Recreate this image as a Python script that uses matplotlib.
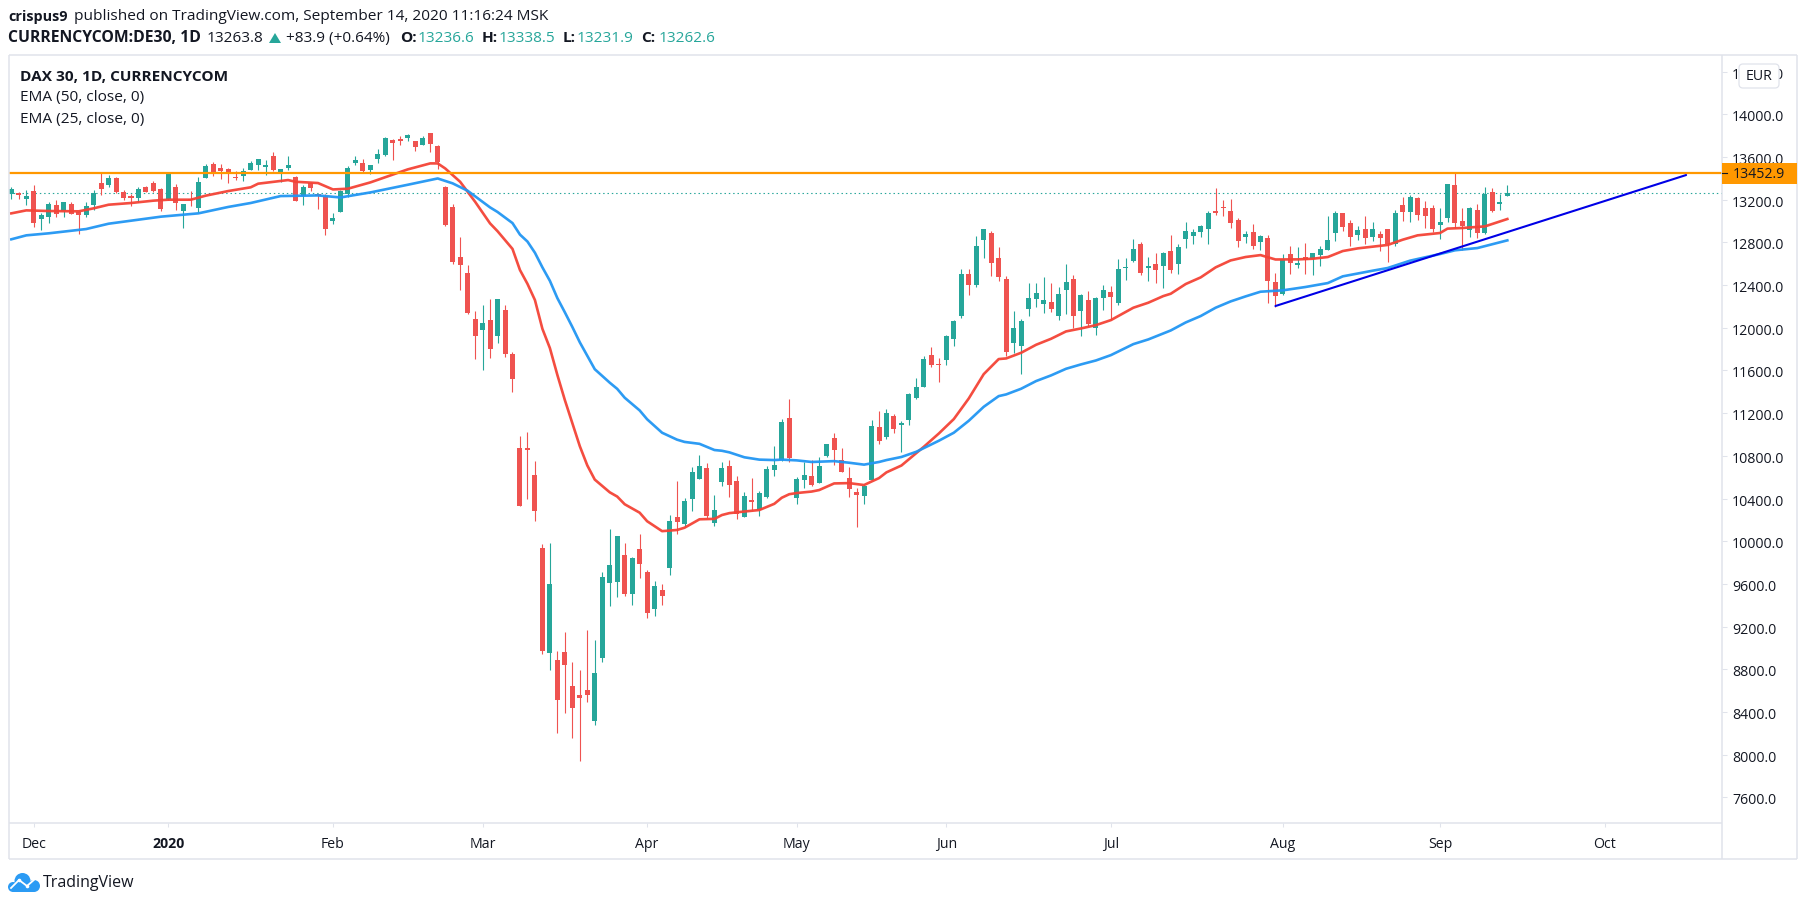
import matplotlib
matplotlib.use("Agg")
import matplotlib.pyplot as plt
from matplotlib.patches import Rectangle, FancyBboxPatch, Polygon, Circle
from matplotlib.ticker import FixedLocator, FixedFormatter
from matplotlib.transforms import ScaledTranslation

plt.rcParams['font.family'] = ['Open Sans', 'DejaVu Sans']

# ---- data (EUR, one entry per daily bar) ----
opens = [13257,13260,13207,13281,13019,13038,13150,13094,13160,13085,13057,13150,13356,13338,13403,13272,13235,13216,13319,13356,
13297,13203,13319,13094,13207,13122,13403,13534,13497,13488,13413,13422,13478,13524,13506,13609,13459,13496,13412,13234,
13356,13253,13234,13000,13084,13253,13543,13543,13478,13581,13618,13759,13768,13777,13749,13712,13824,13702,13318,13131,
12662,12513,12082,11979,12072,11922,12170,11756,10874,10871,10621,9937,8954,8888,8963,8644,8560,8607,8317,8907,
9610,9619,9872,9506,9928,9713,9366,9544,9750,10227,10162,10396,10583,10687,10171,10555,10705,10565,10227,10387,
10293,10415,10668,10761,11155,10405,10574,10612,10546,10799,10968,10761,10593,10462,10424,10574,11071,10977,11174,11089,
11135,11342,11445,11744,11660,11697,11894,12110,12503,12400,12822,12887,12653,12456,11857,11829,12175,12269,12222,12241,
12110,12353,12456,12157,12260,11997,12278,12335,12232,12563,12625,12784,12563,12597,12578,12719,12597,12831,12859,12897,
12925,13093,13131,13093,13009,12850,12897,12803,12841,12428,12316,12691,12588,12666,12647,12685,12732,12891,13078,12985,
12872,12929,12854,12882,12929,12788,13153,13088,13219,13125,13125,12966,13032,13341,13003,12919,13107,12891,13275,13163,13236.6]
highs = [13322,13272,13288,13338,13078,13178,13197,13178,13178,13094,13178,13288,13460,13431,13413,13291,13253,13319,13328,13375,
13310,13447,13347,13160,13281,13413,13534,13553,13534,13497,13469,13497,13562,13581,13571,13646,13487,13609,13421,13337,
13368,13253,13253,13075,13290,13515,13609,13581,13524,13674,13787,13768,13796,13815,13749,13796,13824,13712,13328,13159,
12850,12587,12157,12213,12269,12269,12217,11770,10987,11024,10752,9975,9984,8972,9150,8869,8794,9169,9075,9713,
10115,10050,9984,9853,10069,9731,9628,9600,10247,10565,10405,10696,10808,10733,10434,10743,10761,10612,10462,10593,
10471,10705,10893,11146,11333,10602,10743,10761,10790,10911,11014,10874,10696,10499,10537,11136,11221,11239,11192,11126,
11388,11529,11735,11819,11716,11932,12072,12550,12550,12859,12925,12906,12756,12485,12157,12082,12419,12419,12475,12419,
12381,12597,12494,12316,12344,12288,12400,12391,12644,12653,12831,12803,12663,12700,12709,12869,12784,12990,12925,12962,
13093,13309,13197,13206,13028,12906,12972,12869,12869,12513,12691,12766,12756,12797,12704,12769,13050,13097,13078,13013,
12957,13050,12994,12910,12929,13107,13228,13247,13228,13191,13153,13125,13350,13463,13125,13135,13163,13322,13313,13256,13338.5]
lows = [13207,13207,13150,12944,12916,12982,13038,13038,13066,12879,13038,13103,13244,13319,13263,13197,13141,13178,13272,13272,
13094,13197,13103,12935,13141,13085,13403,13422,13394,13356,13385,13375,13478,13478,13431,13468,13368,13478,13187,13150,
13281,13112,12869,12972,13084,13225,13524,13449,13440,13543,13609,13571,13712,13749,13656,13712,13646,13487,12953,12597,
12353,12128,11707,11604,11716,11857,11727,11403,10331,10396,10190,8944,8794,8204,8391,8157,7942,8495,8279,8869,
9394,9478,9488,9403,9656,9282,9300,9403,9684,10068,10134,10284,10583,10218,10143,10518,10415,10209,10227,10293,
10237,10405,10612,10752,10743,10349,10499,10518,10546,10790,10715,10649,10415,10134,10349,10574,10911,10958,11014,10836,
11089,11332,11445,11632,11491,11651,11829,12091,12306,12381,12653,12485,12438,11735,11763,11566,12110,12194,12138,12147,
12072,12129,11997,11922,12016,11932,12166,12072,12213,12447,12616,12494,12438,12419,12372,12513,12503,12747,12784,12850,
12784,13056,13047,12934,12756,12794,12737,12728,12232,12194,12306,12503,12559,12507,12498,12582,12732,12816,12910,12769,
12825,12788,12816,12722,12619,12769,13003,12994,13013,12938,12900,12835,12994,12938,12732,12854,12844,12882,13088,13107,13231.9]
closes = [13300,13247,13235,12982,13057,13160,13066,13178,13066,13057,13141,13260,13300,13403,13272,13216,13216,13300,13272,13281,
13113,13447,13169,13160,13200,13366,13516,13450,13469,13450,13403,13469,13543,13581,13524,13478,13487,13524,13187,13318,
13309,13234,12925,13028,13281,13496,13571,13468,13524,13627,13777,13731,13749,13805,13693,13777,13721,13553,12962,12616,
12587,12138,11922,12044,11800,12269,11756,11522,10331,10859,10284,8972,9600,8513,8841,8438,8532,8560,8766,9666,
9778,10050,9506,9844,9788,9328,9581,9488,10190,10181,10377,10649,10705,10237,10293,10687,10527,10256,10424,10368,
10452,10677,10715,11118,10780,10583,10621,10527,10705,10911,10855,10649,10490,10434,10518,11080,10939,11202,11052,11107,
11379,11445,11707,11651,11651,11922,12063,12503,12400,12766,12925,12606,12475,11772,11997,12063,12278,12325,12260,12175,
12316,12428,12110,12306,12035,12278,12353,12288,12550,12569,12737,12513,12578,12541,12700,12541,12756,12906,12897,12953,
13075,13075,13122,12981,12812,12878,12766,12859,12438,12297,12644,12606,12606,12638,12704,12741,12825,13078,12947,12854,
12919,12844,12929,12844,12788,13078,13088,13228,13060,13050,12929,12994,13350,12985,12957,13125,12891,13256,13097,13181,13262.6]

ema25_bars = [0,2,5,9,11,13,16,19,21,24,26,29,32,33,37,38,41,43,45,48,53,56,57,58,60,62,64,65,67,68,69,70,71,72,73,74,75,76,77,78,80,81,82,84,85,87,89,90,92,94,95,96,98,100,102,103,104,105,107,108,110,112,114,115,116,117,119,122,124,126,128,130,132,133,135,137,139,141,143,145,147,150,152,154,155,157,159,161,163,165,167,169,172,174,176,178,180,184,186,188,191,192,194,197,200]
ema25_vals = [13072,13100,13094,13091,13119,13153,13169,13191,13200,13200,13238,13281,13316,13350,13384,13368,13356,13296,13303,13362,13484,13540,13540,13493,13368,13181,12978,12905,12739,12541,12412,12260,11990,11810,11558,11323,11107,10891,10711,10578,10459,10419,10347,10268,10188,10095,10106,10127,10206,10210,10246,10264,10279,10293,10351,10408,10441,10452,10466,10480,10542,10545,10527,10560,10592,10646,10710,10886,11010,11145,11338,11566,11707,11713,11766,11841,11897,11966,11994,12025,12072,12188,12235,12297,12319,12410,12472,12566,12631,12663,12681,12640,12641,12647,12663,12719,12744,12776,12825,12866,12888,12929,12935,12950,13019]
ema50_bars = [0,2,5,10,13,20,25,29,32,36,41,44,48,53,57,59,61,64,65,67,68,69,70,71,72,73,74,75,76,77,78,80,81,82,84,85,87,89,90,92,94,95,96,98,100,102,103,105,107,110,112,114,116,117,119,121,124,126,128,130,132,133,135,137,139,141,143,145,147,150,152,155,157,159,161,163,165,167,170,173,176,178,182,184,187,191,193,196,200]
ema50_vals = [12829,12866,12885,12925,12975,13041,13072,13132,13169,13234,13240,13221,13268,13340,13399,13353,13284,13128,13085,12981,12873,12808,12703,12566,12440,12278,12145,12008,11864,11738,11612,11486,11428,11345,11226,11143,11017,10952,10931,10913,10855,10848,10833,10787,10765,10761,10765,10758,10743,10751,10736,10718,10743,10761,10790,10839,10942,11017,11129,11260,11360,11376,11429,11501,11554,11616,11657,11694,11744,11847,11891,11975,12050,12110,12188,12247,12294,12338,12351,12382,12419,12482,12535,12560,12629,12691,12726,12747,12819]

trend_bars = [169, 223.9]
trend_vals = [12204, 13431]
resistance = 13452.9
last_price = 13263.8

price_ticks = [7600,8000,8400,8800,9200,9600,10000,10400,10800,11200,11600,12000,12400,12800,13200,13600,14000,14400]
month_bars = [3,21,43,63,85,105,125,147,170,191,213]
month_labels = ['Dec','2020','Feb','Mar','Apr','May','Jun','Jul','Aug','Sep','Oct']

UP, DOWN = '#26a69a', '#ef5350'
TXT = '#131722'
EDGE = '#e0e3eb'
FS_AXIS = 10.15
FS_HEAD = 11.1

W, H = 1805, 906
fig = plt.figure(figsize=(W/100, H/100), dpi=100, facecolor='white')
L, R, T, B = 9, 1721.5, 55, 823
RIGHT = 1796.5
ax = fig.add_axes([L/W, 1-B/H, (R-L)/W, (B-T)/H])
ax.set_xlim(-0.31, 228.63)
ax.set_ylim(7361, 14555.5)

bars = list(range(len(opens)))
body_top = [max(o, c) for o, c in zip(opens, closes)]
body_bot = [min(o, c) for o, c in zip(opens, closes)]
colors = [UP if c >= o else DOWN for o, c in zip(opens, closes)]
ax.vlines(bars, lows, highs, colors=colors, linewidth=0.8, zorder=2)
ax.bar(bars, [max(t-b, 10) for t, b in zip(body_top, body_bot)], bottom=body_bot,
       width=0.67, color=colors, linewidth=0, zorder=3)

ax.plot(ema25_bars, ema25_vals, color='#f44336', lw=1.9, zorder=4, solid_joinstyle='round', alpha=0.95)
ax.plot(ema50_bars, ema50_vals, color='#2196f3', lw=1.9, zorder=4, solid_joinstyle='round', alpha=0.95)
ax.axhline(last_price, color=UP, lw=0.8, ls=(0, (1.3, 2.6)), zorder=1)
ax.axhline(resistance, color='#ff9800', lw=1.6, zorder=5)
ax.plot(trend_bars, trend_vals, color='#0000e6', lw=1.5, zorder=6, solid_capstyle='round')

for s in ax.spines.values():
    s.set_visible(False)
ax.yaxis.tick_right()
ax.yaxis.set_major_locator(FixedLocator(price_ticks))
ax.yaxis.set_major_formatter(FixedFormatter([f'{p:.1f}' for p in price_ticks]))
ax.tick_params(axis='y', length=3.6, width=0.75, color=EDGE, labelcolor=TXT, labelsize=FS_AXIS, pad=4)
ax.set_xticks(month_bars)
ax.set_xticklabels(month_labels)
ax.tick_params(axis='x', length=3, width=0.75, color=EDGE, labelcolor=TXT, labelsize=FS_AXIS, pad=7)
ax.get_xticklabels()[1].set_fontweight('bold')
label_shift = ScaledTranslation(0, -1.5/100, fig.dpi_scale_trans)
for lab in ax.get_yticklabels():
    lab.set_transform(lab.get_transform() + label_shift)

# chart frame and text in pixel coordinates
ov = fig.add_axes([0, 0, 1, 1], zorder=10)
ov.set_xlim(0, W); ov.set_ylim(H, 0); ov.axis('off'); ov.patch.set_alpha(0)
for seg in [((L, T), (RIGHT, T)), ((L, T), (L, 859)), ((L, B), (R, B)), ((L, 859), (RIGHT, 859)),
            ((R, T), (R, 859)), ((RIGHT, T), (RIGHT, 859))]:
    ov.plot(*zip(*seg), color=EDGE, lw=1.1, solid_capstyle='butt')

ov.add_patch(Rectangle((R, 163), 75, 21, fc='#ff9800', ec='none', zorder=5))
ov.plot([R, R+5], [172.7, 172.7], color=TXT, lw=0.8, zorder=6)
ov.text(1732.7, 174, '13452.9', color=TXT, fontsize=FS_AXIS, va='center', ha='left', zorder=6)
ov.add_patch(FancyBboxPatch((1741, 66), 36, 20, boxstyle='round,pad=2,rounding_size=4', fc='white', ec=EDGE, lw=0.9, zorder=5))
ov.text(1759, 76.5, 'EUR', color=TXT, fontsize=FS_AXIS, va='center', ha='center', zorder=6)

def t(x, y, s, **k):
    k.setdefault('color', TXT); k.setdefault('fontsize', FS_HEAD)
    ov.text(x, y, s, va='center', ha='left', **k)

t(8, 17, 'crispus9', fontweight='bold', fontsize=10.4)
t(73.5, 17, 'published on TradingView.com, September 14, 2020 11:16:24 MSK')
t(8, 38.5, 'CURRENCYCOM:DE30, 1D', fontweight='bold', fontsize=11.3)
t(207, 38.5, '13263.8')
ov.add_patch(Polygon([(269, 43), (281, 43), (275, 33)], fc=UP, ec='none'))
t(286, 38.5, '+83.9 (+0.64%)')
for x, lab, xv, val in [(400, 'O:', 418, '13236.6'), (482, 'H:', 499, '13338.5'),
                        (563, 'L:', 577, '13231.9'), (641, 'C:', 659, '13262.6')]:
    t(x, 38.5, lab, fontweight='bold')
    t(xv, 38.5, val, color=UP)
t(19.5, 77, 'DAX 30, 1D, CURRENCYCOM', fontweight='bold')
t(19.5, 98, 'EMA (50, close, 0)')
t(19.5, 119, 'EMA (25, close, 0)')

# logo
logo = '#2b9bf4'
ov.add_patch(Circle((22.5, 881), 8, fc=logo, ec='none'))
ov.add_patch(Circle((13, 887), 5, fc=logo, ec='none'))
ov.add_patch(Circle((34, 886), 6, fc=logo, ec='none'))
ov.add_patch(Rectangle((13, 884), 21, 8, fc=logo, ec='none'))
ov.plot([11, 19, 27, 35], [888, 880, 886, 879], color='white', lw=1.3)
ov.plot([19, 27], [880, 886], 'o', color='white', ms=2.6, mew=0)
t(42.5, 883, 'TradingView', fontsize=11.5)

fig.savefig('out.png', dpi=100, facecolor='white')
